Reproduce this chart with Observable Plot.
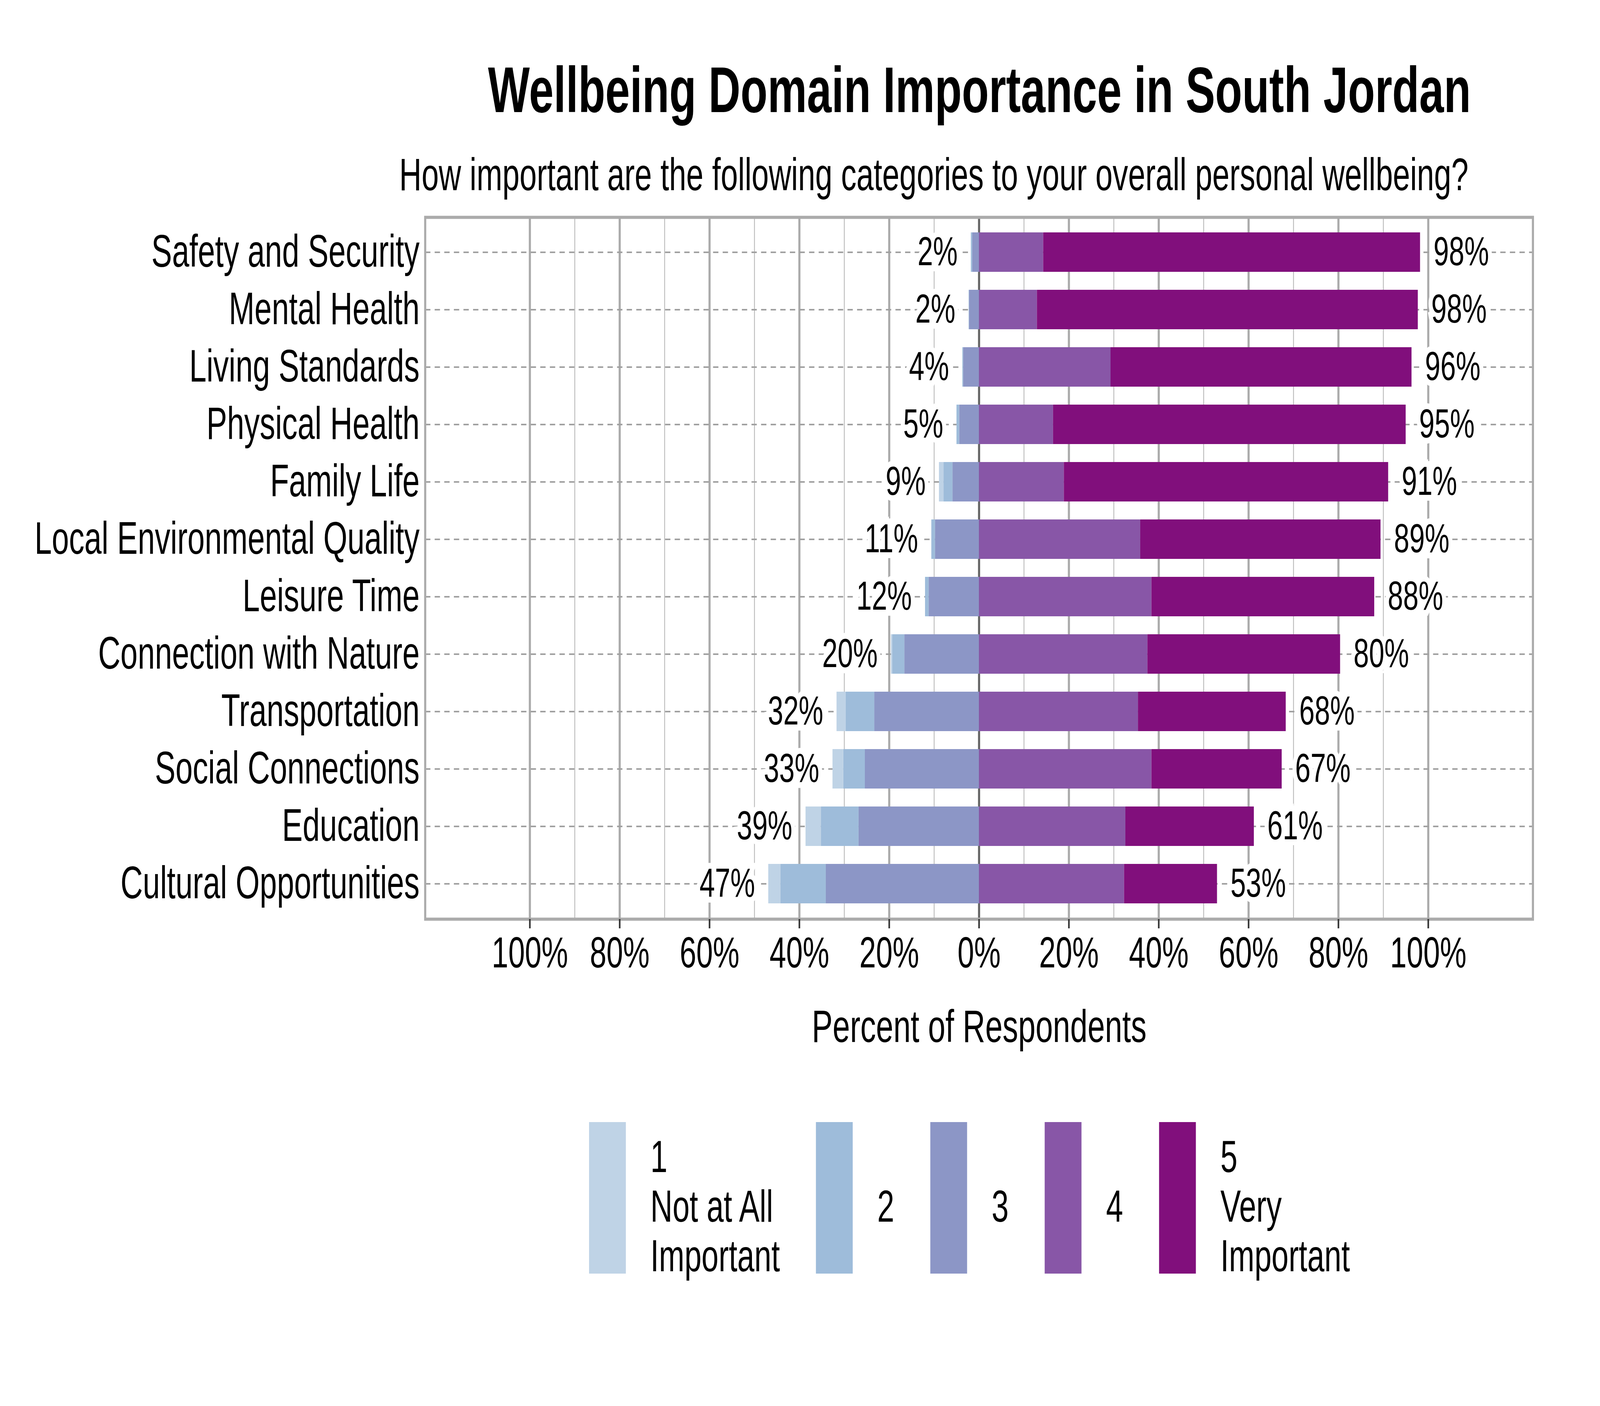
<!DOCTYPE html>
<html>
<head>
<meta charset="utf-8">
<script src="https://cdn.jsdelivr.net/npm/d3@7"></script>
<script src="https://cdn.jsdelivr.net/npm/@observablehq/plot@0.6"></script>
<style>
  html, body { margin: 0; padding: 0; background: #ffffff; overflow: hidden; }
  #wrap { position: relative; overflow: hidden; background: #ffffff; }
  #page { position: absolute; left: 0; top: 0; width: 6000px; height: 3600px; background: #ffffff; font-family: "Liberation Sans", Arial, sans-serif; transform-origin: 0 0; }
  #page svg { display: block; }
</style>
</head>
<body>
<div id="wrap"><div id="page"></div></div>
<script>
// ---------- data ----------
const categories = [
  "Safety and Security", "Mental Health", "Living Standards", "Physical Health",
  "Family Life", "Local Environmental Quality", "Leisure Time", "Connection with Nature",
  "Transportation", "Social Connections", "Education", "Cultural Opportunities"
];
const level1 = [0.0, 0.0, 0.0, 0.0, 1.0, 0.0, 0.0, 0.3, 2.0, 2.4, 3.4, 2.7];
const level2 = [0.3, 0.1, 0.2, 0.6, 2.0, 0.8, 0.8, 2.7, 6.4, 4.8, 8.4, 10.1];
const level3 = [1.5, 2.2, 3.5, 4.4, 5.9, 9.8, 11.2, 16.6, 23.3, 25.4, 26.8, 34.1];
const level4 = [14.3, 12.9, 29.3, 16.5, 18.9, 35.9, 38.4, 37.5, 35.4, 38.4, 32.6, 32.3];
const level5 = [83.9, 84.8, 67.0, 78.5, 72.2, 53.5, 49.6, 42.9, 32.9, 29.0, 28.6, 20.7];
const lowLabels  = ["2%", "2%", "4%", "5%", "9%", "11%", "12%", "20%", "32%", "33%", "39%", "47%"];
const highLabels = ["98%", "98%", "96%", "95%", "91%", "89%", "88%", "80%", "68%", "67%", "61%", "53%"];
const levels = ["1", "2", "3", "4", "5"];
const levelNames = [["1", "Not at All", "Important"], ["2"], ["3"], ["4"], ["5", "Very", "Important"]];
const levelColors = ["#bfd3e6", "#9ebcda", "#8c96c6", "#8856a7", "#810f7c"];
const majorTicks = [-100, -80, -60, -40, -20, 0, 20, 40, 60, 80, 100];
const minorTicks = [-90, -70, -50, -30, -10, 10, 30, 50, 70, 90];

const titleText = "Wellbeing Domain Importance in South Jordan";
const subtitleText = "How important are the following categories to your overall personal wellbeing?";
const xTitle = "Percent of Respondents";

// ---------- derived tables ----------
const segments = [];
const totals = [];
categories.forEach((cat, i) => {
  let a = 0;
  [["3", level3[i]], ["2", level2[i]], ["1", level1[i]]].forEach(([k, v]) => {
    if (v > 0) segments.push({cat, level: k, x1: -a, x2: -(a + v)});
    a += v;
  });
  let b = 0;
  [["4", level4[i]], ["5", level5[i]]].forEach(([k, v]) => {
    if (v > 0) segments.push({cat, level: k, x1: b, x2: b + v});
    b += v;
  });
  totals.push({cat, low: a, high: b, lowLabel: lowLabels[i], highLabel: highLabels[i]});
});

const FONT = "'Liberation Sans', Arial, sans-serif";
const wrap = document.getElementById("wrap");
const page = document.getElementById("page");

// map the 6000x3600 design onto the actual viewport (which may be narrower than 6000)
function fit() {
  const vw = window.innerWidth || 6000, vh = window.innerHeight || 3600;
  const sx = Math.min(1, vw / 6000), sy = Math.min(1, vh / 3600);
  page.style.transform = "scale(" + sx + "," + sy + ")";
  wrap.style.width = (6000 * sx) + "px";
  wrap.style.height = (3600 * sy) + "px";
}
fit();
window.addEventListener("resize", fit);

// ---------- header (title + subtitle) ----------
const header = d3.create("svg").attr("width", 6000).attr("height", 530)
  .style("font-family", FONT);
header.append("text").attr("x", 3673).attr("y", 287).attr("text-anchor", "middle")
  .attr("font-size", 166).attr("font-weight", "bold").attr("fill", "#000").text(titleText);
header.append("text").attr("x", 3502).attr("y", 487).attr("text-anchor", "middle")
  .attr("font-size", 116).attr("fill", "#000").text(subtitleText);
page.appendChild(header.node());

// ---------- chart ----------
const chart = Plot.plot({
  width: 6000,
  height: 2010,
  marginLeft: 1594,
  marginRight: 252,
  marginTop: 26,
  marginBottom: 187,
  style: {fontFamily: FONT, fontSize: "116px", color: "#000", background: "#ffffff"},
  x: {domain: [-123.3, 123.3]},
  y: {domain: categories, paddingInner: 0.31, paddingOuter: 0.24},
  color: {domain: levels, range: levelColors},
  marks: [
    Plot.ruleX(minorTicks, {stroke: "#b5b5b5", strokeWidth: 3}),
    Plot.ruleX(majorTicks.filter(d => d !== 0), {stroke: "#ababab", strokeWidth: 8}),
    Plot.ruleY(categories, {stroke: "#a0a0a0", strokeWidth: 4, strokeDasharray: "20,16"}),
    Plot.ruleX([0], {stroke: "#666666", strokeWidth: 8}),
    Plot.barX(segments, {x1: "x1", x2: "x2", y: "cat", fill: "level"}),
    Plot.text(totals, {x: d => -d.low, y: "cat", text: "lowLabel", textAnchor: "end", dx: -50,
      fontSize: 104, fill: "#000", stroke: "#ffffff", strokeWidth: 30, strokeLinejoin: "miter"}),
    Plot.text(totals, {x: "high", y: "cat", text: "highLabel", textAnchor: "start", dx: 50,
      fontSize: 104, fill: "#000", stroke: "#ffffff", strokeWidth: 30, strokeLinejoin: "miter"}),
    Plot.frame({stroke: "#ababab", strokeWidth: 8}),
    Plot.axisX({ticks: majorTicks, tickFormat: d => Math.abs(d) + "%", tickSize: 24, tickPadding: 20,
      stroke: "#333333", strokeWidth: 6, fontSize: 112, label: null}),
    Plot.axisY({tickSize: 0, tickPadding: 21, fontSize: 116, label: null})
  ]
});
page.appendChild(chart);

// ---------- x title + legend ----------
const legend = d3.create("svg").attr("width", 6000).attr("height", 1060)
  .style("font-family", FONT);
page.appendChild(legend.node());
legend.append("text").attr("x", 3672).attr("y", 128).attr("text-anchor", "middle")
  .attr("font-size", 117).attr("fill", "#000").text(xTitle);

let lx = 2209;
levels.forEach((lev, i) => {
  legend.append("rect").attr("x", lx).attr("y", 333).attr("width", 138).attr("height", 388)
    .attr("fill", levelColors[i]);
  const lines = levelNames[i];
  const t = legend.append("text").attr("font-size", 115).attr("fill", "#000");
  const firstBaseline = 588 - (lines.length - 1) / 2 * 127;
  lines.forEach((ln, j) => {
    t.append("tspan").attr("x", lx + 230).attr("y", firstBaseline + j * 127).text(ln);
  });
  const w = t.node().getBBox().width;
  lx = lx + 230 + w + 135;
});
</script>
</body>
</html>
